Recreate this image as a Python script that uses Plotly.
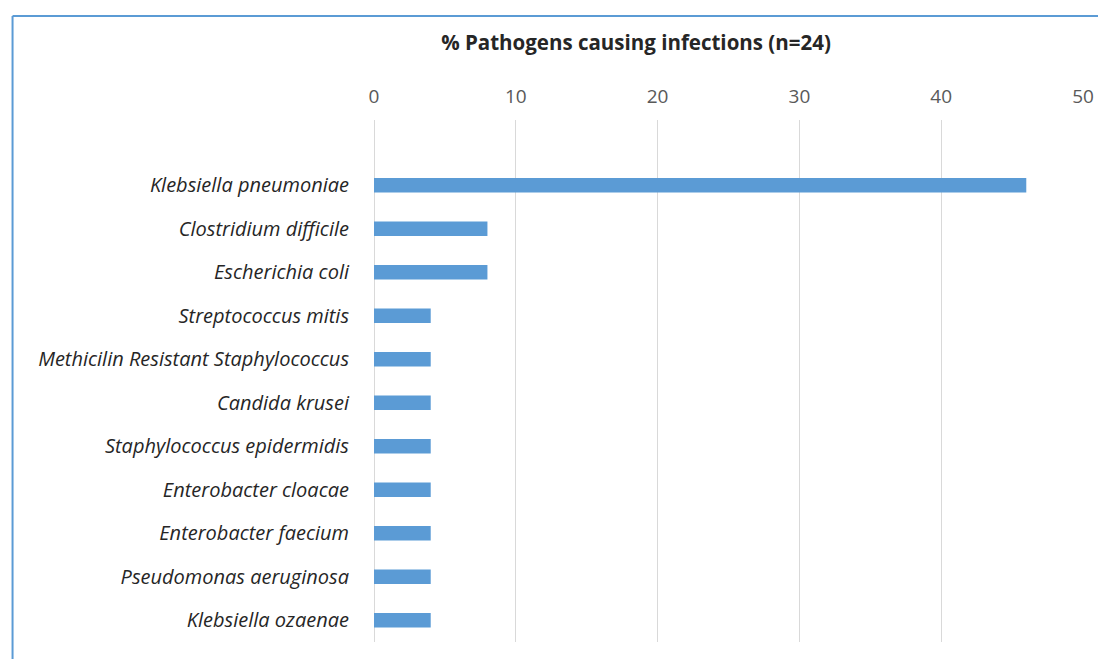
import plotly.graph_objects as go

categories = [
    "Klebsiella pneumoniae",
    "Clostridium difficile",
    "Escherichia coli",
    "Streptococcus mitis",
    "Methicilin Resistant Staphylococcus",
    "Candida krusei",
    "Staphylococcus epidermidis",
    "Enterobacter cloacae",
    "Enterobacter faecium",
    "Pseudomonas aeruginosa",
    "Klebsiella ozaenae",
]
values = [46.0, 8.0, 8.0, 4.0, 4.0, 4.0, 4.0, 4.0, 4.0, 4.0, 4.0]
x_ticks = [0, 10, 20, 30, 40, 50]

# page body has an 8px offset; compensate
OFF = 8
W, H = 1106 - OFF, 659 - OFF
L, R, T, B = 374 - OFF, 18, 120 - OFF, 17
PW, PH = W - L - R, H - T - B

fig = go.Figure(go.Bar(
    x=values, y=categories, orientation="h",
    marker=dict(color="#5b9bd5", line=dict(width=0)),
    width=0.33,
))

fig.update_layout(
    width=W, height=H,
    paper_bgcolor="white", plot_bgcolor="white",
    margin=dict(l=L, r=R, t=T, b=B),
    showlegend=False,
    font=dict(family="Open Sans, sans-serif"),
    title=dict(
        text="<b>% Pathogens causing infections (n=24)</b>",
        x=(636 - OFF) / W, xanchor="center", y=1 - (43 - OFF) / H, yanchor="middle",
        font=dict(size=20.5, color="#262626", family="Open Sans, sans-serif"),
    ),
    xaxis=dict(
        side="top", range=[0, 50], tickvals=x_ticks,
        showgrid=True, gridcolor="#d9d9d9", gridwidth=1,
        zeroline=True, zerolinecolor="#d9d9d9", zerolinewidth=1,
        showline=False, ticks="", ticklabelstandoff=12,
        tickfont=dict(size=19, color="#595959"),
    ),
    yaxis=dict(
        type="category", categoryorder="array", categoryarray=categories,
        range=[10.5, -1.5],
        showgrid=False, zeroline=False, showline=False,
        ticks="", ticklabelstandoff=24,
        tickfont=dict(size=20, color="#262626", style="italic"),
    ),
)

# frame of the chart (top and left edges visible)
px0 = (10 - 374) / PW
py0 = (642 - 16) / PH
fig.add_shape(type="line", xref="paper", yref="paper",
              x0=px0, y0=py0, x1=1.05, y1=py0,
              line=dict(color="#5b9bd5", width=2))
fig.add_shape(type="line", xref="paper", yref="paper",
              x0=px0, y0=py0, x1=px0, y1=-0.1,
              line=dict(color="#5b9bd5", width=2))

fig.write_html("out.html")
